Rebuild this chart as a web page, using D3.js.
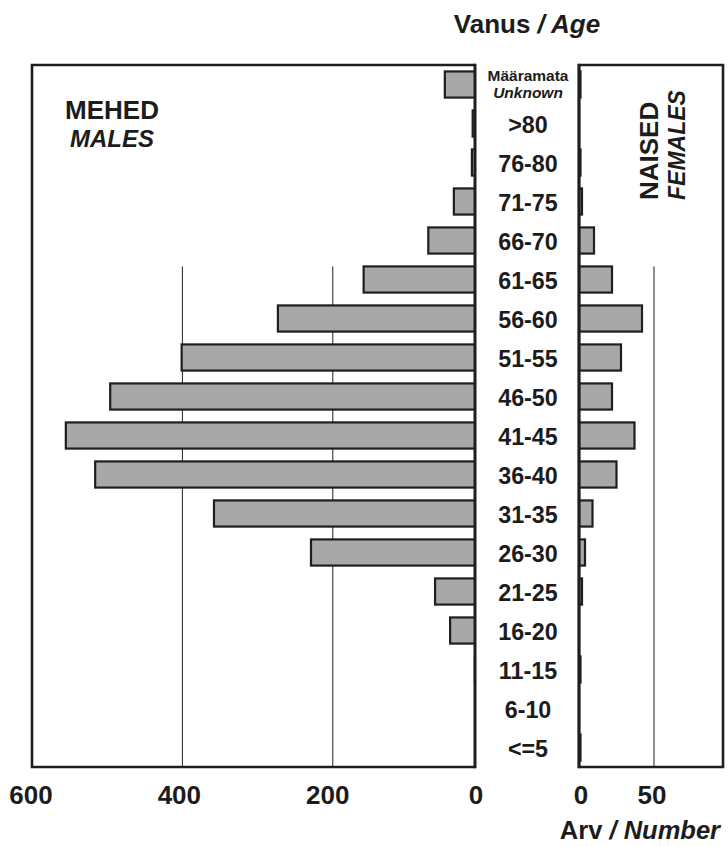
<!DOCTYPE html>
<html><head><meta charset="utf-8">
<script src="https://cdn.jsdelivr.net/npm/d3@7"></script>
<style>
html,body{margin:0;padding:0;background:#fff;}
svg text{font-family:"Liberation Sans",Arial,sans-serif;font-weight:bold;fill:#1c1c1c;}
</style></head>
<body>
<svg id="chart" width="728" height="846"></svg>
<script>
// ---- data ----
const categories = ["Unknown", ">80", "76-80", "71-75", "66-70", "61-65", "56-60", "51-55", "46-50",
  "41-45", "36-40", "31-35", "26-30", "21-25", "16-20", "11-15", "6-10", "<=5"];
const males   = [51, 14, 15, 39, 73, 159, 273, 401, 496, 555, 516, 358, 229, 64, 44, 11, 9, 0];
const females = [1, 0, 1, 2, 10, 22, 42, 28, 22, 37, 25, 9, 4, 2, 0, 1, 0, 1];
const maleTicks = [600, 400, 200, 0];
const femaleTicks = [0, 50];
const maleGrid = [400, 200];
const femaleGrid = [50];

const svg = d3.select("#chart");
const yTop = 65, yBottom = 767;
const L = {x0: 32, x1: 475};
const R = {x0: 579, x1: 723};

const y = d3.scaleBand().domain(categories).range([yTop, yBottom]).paddingInner(0.33).paddingOuter(0.165);
const xM = d3.scaleLinear().domain([0, 600]).range([483.2, 32]);
const xF = d3.scaleLinear().domain([0, 96]).range([579, 723]);
const xMlab = d3.scaleLinear().domain([0, 600]).range([476, 31]);
const xFlab = d3.scaleLinear().domain([0, 50]).range([581, 652]);

const defs = svg.append("defs");
defs.append("clipPath").attr("id", "clipL").append("rect")
  .attr("x", L.x0).attr("y", yTop).attr("width", L.x1 - L.x0).attr("height", yBottom - yTop);
defs.append("clipPath").attr("id", "clipR").append("rect")
  .attr("x", R.x0).attr("y", yTop).attr("width", R.x1 - R.x0).attr("height", yBottom - yTop);

const gridTop = y("61-65");
// gridlines
svg.append("g").selectAll("line").data(maleGrid).join("line")
  .attr("x1", d => xM(d)).attr("x2", d => xM(d)).attr("y1", gridTop).attr("y2", yBottom)
  .attr("stroke", "#222").attr("stroke-width", 1);
svg.append("g").selectAll("line").data(femaleGrid).join("line")
  .attr("x1", d => xF(d)).attr("x2", d => xF(d)).attr("y1", gridTop).attr("y2", yBottom)
  .attr("stroke", "#222").attr("stroke-width", 1);

// bars
const barFill = "#a8a8a8", barStroke = "#1e1e1e";
svg.append("g").attr("clip-path", "url(#clipL)").selectAll("rect")
  .data(categories.map((c, i) => ({c, v: males[i]}))).join("rect")
  .attr("x", d => xM(d.v)).attr("width", d => xM(0) - xM(d.v))
  .attr("y", d => y(d.c)).attr("height", y.bandwidth())
  .attr("fill", barFill).attr("stroke", barStroke).attr("stroke-width", 2.2);
svg.append("g").attr("clip-path", "url(#clipR)").selectAll("rect")
  .data(categories.map((c, i) => ({c, v: females[i]}))).join("rect")
  .attr("x", xF(0)).attr("width", d => xF(d.v) - xF(0))
  .attr("y", d => y(d.c)).attr("height", y.bandwidth())
  .attr("fill", barFill).attr("stroke", barStroke).attr("stroke-width", 2.2);

// panel borders
const border = "#1e1e1e";
svg.append("path")
  .attr("d", `M${L.x1},${yTop} L${L.x0},${yTop} L${L.x0},${yBottom} L${L.x1},${yBottom}`)
  .attr("fill", "none").attr("stroke", border).attr("stroke-width", 2.6);
svg.append("line").attr("x1", L.x1).attr("x2", L.x1).attr("y1", yTop - 1.3).attr("y2", yBottom + 1.3)
  .attr("stroke", border).attr("stroke-width", 3);
svg.append("path")
  .attr("d", `M${R.x0},${yTop} L${R.x1},${yTop} L${R.x1},${yBottom} L${R.x0},${yBottom}`)
  .attr("fill", "none").attr("stroke", border).attr("stroke-width", 2.6);
svg.append("line").attr("x1", R.x0).attr("x2", R.x0).attr("y1", yTop - 1.3).attr("y2", yBottom + 1.3)
  .attr("stroke", border).attr("stroke-width", 3.2);

// category labels
const midX = 528;
const lab = svg.append("g").attr("text-anchor", "middle");
categories.forEach(c => {
  const cy = y(c) + y.bandwidth() / 2;
  if (c === "Unknown") {
    lab.append("text").attr("x", midX).attr("y", 81).attr("font-size", 15.5).text("Määramata");
    lab.append("text").attr("x", midX).attr("y", 97.5).attr("font-size", 15.5)
      .attr("font-style", "italic").text("Unknown");
  } else {
    lab.append("text").attr("x", midX).attr("y", cy + 9.5).attr("font-size", 23.3).text(c);
  }
});

// axis tick labels
const tickY = 804;
svg.append("g").attr("text-anchor", "middle").selectAll("text").data(maleTicks).join("text")
  .attr("x", d => xMlab(d)).attr("y", tickY).attr("font-size", 26).text(d => d);
svg.append("g").attr("text-anchor", "middle").selectAll("text").data(femaleTicks).join("text")
  .attr("x", d => xFlab(d)).attr("y", tickY).attr("font-size", 26).text(d => d);

// titles
const t1 = svg.append("text").attr("x", 527).attr("y", 33).attr("text-anchor", "middle").attr("font-size", 26);
t1.append("tspan").text("Vanus ");
t1.append("tspan").attr("font-style", "italic").text("/ Age");

const t2 = svg.append("text").attr("x", 720).attr("y", 839).attr("text-anchor", "end").attr("font-size", 25.5);
t2.append("tspan").text("Arv ");
t2.append("tspan").attr("font-style", "italic").text("/ Number");

svg.append("text").attr("x", 112).attr("y", 119).attr("text-anchor", "middle").attr("font-size", 26).text("MEHED");
svg.append("text").attr("x", 112).attr("y", 147).attr("text-anchor", "middle").attr("font-size", 24)
  .attr("font-style", "italic").text("MALES");

svg.append("text").attr("transform", "translate(658,200) rotate(-90)").attr("font-size", 26).text("NAISED");
svg.append("text").attr("transform", "translate(685,200) rotate(-90)").attr("font-size", 23)
  .attr("font-style", "italic").text("FEMALES");
</script>
</body></html>
